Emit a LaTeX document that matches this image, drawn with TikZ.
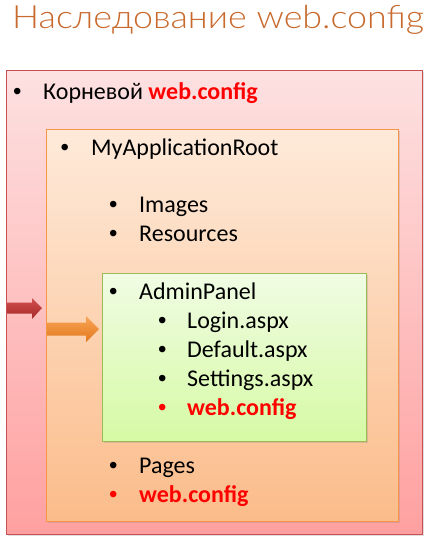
\documentclass[tikz,border=0pt]{standalone}
\usepackage{fontspec}
\setmainfont{Carlito}
\newfontfamily\titlefont{Lato Light}
\newfontfamily\bulletfont{Liberation Sans}
\usetikzlibrary{shadows}
\definecolor{titlecol}{RGB}{200,105,45}
\definecolor{cfgred}{RGB}{255,0,0}
\definecolor{outerborder}{RGB}{200,80,80}
\definecolor{outertop}{RGB}{253,225,225}
\definecolor{outerbot}{RGB}{255,160,160}
\definecolor{midborder}{RGB}{247,150,70}
\definecolor{midtop}{RGB}{254,234,218}
\definecolor{midbot}{RGB}{251,188,138}
\definecolor{inborder}{RGB}{155,187,89}
\definecolor{intop}{RGB}{240,252,228}
\definecolor{inbot}{RGB}{214,250,164}
\definecolor{arrredtop}{RGB}{210,80,80}
\definecolor{arrredbot}{RGB}{165,40,40}
\definecolor{arrorgtop}{RGB}{250,165,85}
\definecolor{arrorgbot}{RGB}{225,120,30}
\begin{document}
\begin{tikzpicture}[x=1pt,y=-1pt,
  txt/.style={anchor=base west, inner sep=0pt, font=\fontsize{24}{28}\selectfont},
  bul/.style={anchor=base west, inner sep=0pt, font=\bulletfont\fontsize{24}{28}\selectfont},
  cfgtxt/.style={txt, text=cfgred, font=\fontsize{24}{28}\selectfont\bfseries},
  boxshadow/.style={drop shadow={opacity=0.25, shadow xshift=1.5pt, shadow yshift=-2pt}},
  arrowshape/.style={draw=none}]
\path[use as bounding box] (0,0) rectangle (440,544);
\node[anchor=base west, inner sep=0pt, text=titlecol, xscale=1.12] (title) at (12,28)
  {\titlefont\fontsize{32}{36}\selectfont Наследование web.config};
% boxes
\path[boxshadow, draw=outerborder, line width=0.8pt, top color=outertop, bottom color=outerbot] (6,70) rectangle (422,534);
\path[boxshadow, draw=midborder, line width=0.8pt, top color=midtop, bottom color=midbot] (46,129) rectangle (398,521);
\path[boxshadow, draw=inborder, line width=0.8pt, top color=intop, bottom color=inbot] (102,273) rectangle (366,441);
% arrows
\path[arrowshape, top color=arrredtop, bottom color=arrredbot] (7,302.5) -- (32,302.5) -- (32,298) -- (42,308) -- (32,319) -- (32,313.5) -- (7,313.5) -- cycle;
\path[arrowshape, top color=arrorgtop, bottom color=arrorgbot] (47,322.5) -- (86,322.5) -- (86,316) -- (99,329) -- (86,342) -- (86,335.5) -- (47,335.5) -- cycle;
% level 1
\node[bul] (b1) at (13,99) {•};
\node[txt] (t1) at (43,99) {Корневой \textcolor{cfgred}{\bfseries web.config}};
% level 2
\node[bul] (b2) at (60.5,155.5) {•};
\node[txt] (t2) at (91,155.5) {MyApplicationRoot};
% level 3
\node[bul] (b3) at (109,212.5) {•};
\node[txt] (t3) at (139,212.5) {Images};
\node[bul] (b4) at (109,241.5) {•};
\node[txt] (t4) at (139,241.5) {Resources};
\node[bul] (b5) at (109,299.5) {•};
\node[txt] (t5) at (139,299.5) {AdminPanel};
% level 4
\node[bul] (b6) at (158,328.5) {•};
\node[txt] (t6) at (187,328.5) {Login.aspx};
\node[bul] (b7) at (158,357.5) {•};
\node[txt] (t7) at (187,357.5) {Default.aspx};
\node[bul] (b8) at (158,386.5) {•};
\node[txt] (t8) at (187,386.5) {Settings.aspx};
\node[bul, text=cfgred] (b9) at (158,415) {•};
\node[cfgtxt] (t9) at (187,415) {web.config};
% level 3 after
\node[bul] (b10) at (109,473) {•};
\node[txt] (t10) at (139,473) {Pages};
\node[bul, text=cfgred] (b11) at (109,502) {•};
\node[cfgtxt] (t11) at (139,502) {web.config};
\end{tikzpicture}
\end{document}
